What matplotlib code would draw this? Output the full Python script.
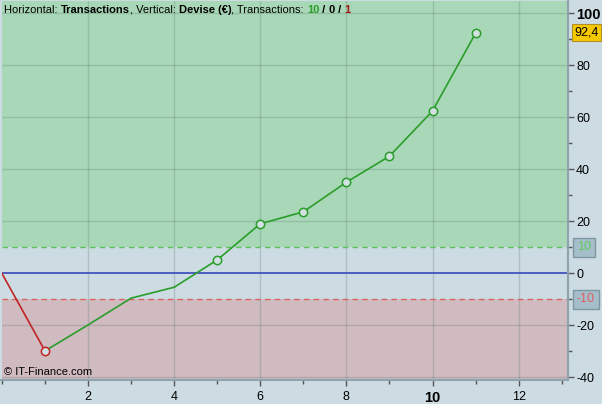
import matplotlib
matplotlib.use("Agg")
import matplotlib.pyplot as plt
from matplotlib.ticker import MultipleLocator

# Data
trades = [0, 1, 2, 3, 4, 5, 6, 7, 8, 9, 10, 11]
equity = [0, -29.8, -19.8, -9.5, -5.3, 5.2, 19.1, 23.7, 35.1, 45.1, 62.5, 92.4]
marker_idx = [1, 5, 6, 7, 8, 9, 10, 11]
x_ticks = [2, 4, 6, 8, 10, 12]
y_ticks = [-40, -20, 0, 20, 40, 60, 80, 100]
upper_level = 10
lower_level = -10
last_label = "92,4"
n_win, n_zero, n_loss = 10, 0, 1

plt.rcParams['font.family'] = ['Liberation Sans', 'DejaVu Sans']

BG = '#cddce3'
GREEN_ZONE = '#a9d8b8'
RED_ZONE = '#d0bbc0'

fig = plt.figure(figsize=(6.02, 4.04), dpi=100, facecolor=BG)
W, H = 602, 404
ax = fig.add_axes([1.5 / W, 23.7 / H, (567.7 - 1.5) / W, (380.3 - 1) / H])
ax.set_facecolor(BG)
xmin, xmax = 0 - 0.01, 13.14
ymin, ymax = -41.1, 104.8
ax.set_xlim(xmin, xmax)
ax.set_ylim(ymin, ymax)

ax.axhspan(upper_level, ymax, color=GREEN_ZONE, zorder=0, lw=0)
ax.axhspan(ymin, lower_level, color=RED_ZONE, zorder=0, lw=0)

for xv in x_ticks:
    ax.axvline(xv, color='#5f7a72', alpha=0.28, lw=1, zorder=1)
for yv in y_ticks:
    if yv != 0:
        ax.axhline(yv, color='#5f7a72', alpha=0.28, lw=1, zorder=1)

ax.axhline(0, color='#2b3bb8', lw=1.1, zorder=2)
ax.axhline(upper_level, color='#5cc35c', lw=1, ls=(0, (4, 3)), zorder=2)
ax.axhline(lower_level, color='#d86464', lw=1, ls=(0, (4, 3)), zorder=2)

# Lines
ax.plot(trades[:2], equity[:2], color='#c02525', lw=1.2, zorder=3)
ax.plot(trades[1:], equity[1:], color='#2a9d2a', lw=1.2, zorder=3)
for i in marker_idx:
    ec = '#c02525' if equity[i] < 0 else '#2a9d2a'
    ax.plot(trades[i], equity[i], 'o', ms=6, mfc='#d3e0e2', mec=ec, mew=1.1, zorder=4)

# Axes styling
for s in ['top', 'left']:
    ax.spines[s].set_visible(False)
for s in ['right', 'bottom']:
    ax.spines[s].set_color('#8ea3ad')
    ax.spines[s].set_linewidth(1.5)

ax.yaxis.tick_right()
ax.set_yticks(y_ticks)
ax.yaxis.set_minor_locator(MultipleLocator(10))
ax.set_xticks(x_ticks)
ax.xaxis.set_minor_locator(MultipleLocator(1))
ax.tick_params(axis='y', which='major', length=4, width=1, color='#555555',
               labelsize=9, pad=2, labelcolor='black')
ax.tick_params(axis='y', which='minor', length=3, width=1, color='#555555')
ax.tick_params(axis='x', which='major', length=4, width=1, color='#555555',
               labelsize=9, pad=4)
ax.tick_params(axis='x', which='minor', length=3, width=1, color='#555555')
ax.set_yticklabels([str(v) for v in y_ticks])
ax.set_xticklabels([str(v) for v in x_ticks])
for lab in ax.get_yticklabels():
    if lab.get_text() == '100':
        lab.set_fontweight('bold')
        lab.set_fontsize(10.5)
for lab in ax.get_xticklabels():
    if lab.get_text() == '10':
        lab.set_fontweight('bold')
        lab.set_fontsize(10.5)

# Right-side value boxes
ax.text(1.012, (equity[-1] - ymin) / (ymax - ymin) + 0.002, last_label,
        transform=ax.transAxes, fontsize=9, color='black', va='center', ha='left',
        bbox=dict(boxstyle='square,pad=0.2', fc='#f6c800', ec='#b09020', lw=0.8),
        zorder=5, clip_on=False)
ax.text(1.016, (upper_level - ymin) / (ymax - ymin), str(upper_level),
        transform=ax.transAxes, fontsize=9, color='#5ccc5c', va='center', ha='left',
        bbox=dict(boxstyle='square,pad=0.3', fc='#a6bdca', ec='#7f97a3', lw=1),
        zorder=5, clip_on=False)
ax.text(1.016, (lower_level - ymin) / (ymax - ymin), str(lower_level),
        transform=ax.transAxes, fontsize=9, color='#e06060', va='center', ha='left',
        bbox=dict(boxstyle='square,pad=0.3', fc='#a6bdca', ec='#7f97a3', lw=1),
        zorder=5, clip_on=False)

# Watermark
ax.text(0.004, 0.008, '\u00a9 IT-Finance.com', transform=ax.transAxes,
        fontsize=8, color='black', ha='left', va='bottom', zorder=5)

# Header with mixed styles
pieces = [
    ("Horizontal: ", 'normal', 'black'),
    ("Transactions", 'bold', 'black'),
    (", Vertical: ", 'normal', 'black'),
    ("Devise (\u20ac)", 'bold', 'black'),
    (", Transactions: ", 'normal', 'black'),
    (str(n_win), 'bold', '#2a9d2a'),
    (" / ", 'bold', 'black'),
    (str(n_zero), 'bold', 'black'),
    (" / ", 'bold', 'black'),
    (str(n_loss), 'bold', '#a01818'),
]
renderer = fig.canvas.get_renderer()
xpix = 4.0
ypix = H - 10.0
for txt, wt, col in pieces:
    t = fig.text(xpix / W, ypix / H, txt, fontsize=8, fontweight=wt, color=col,
                 ha='left', va='center')
    bb = t.get_window_extent(renderer=renderer)
    xpix += bb.width

fig.savefig('out.png', dpi=100, facecolor=BG)
